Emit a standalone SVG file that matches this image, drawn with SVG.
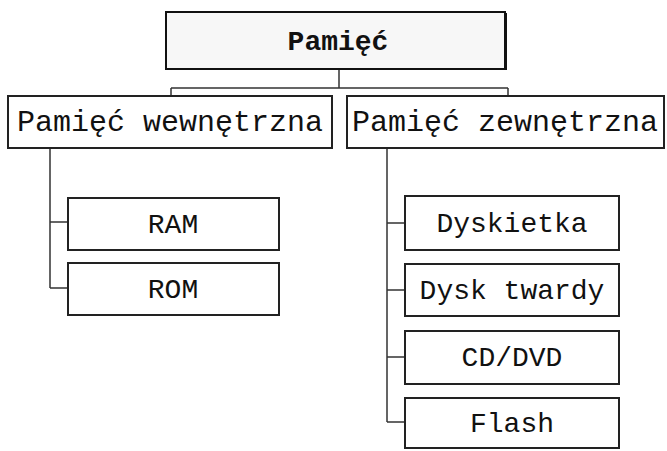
<svg xmlns="http://www.w3.org/2000/svg" width="667" height="451" viewBox="0 0 667 451">
<style>
.box{fill:#fff;stroke:#222;stroke-width:2}
.top{fill:#f7f7f7;stroke:#111;stroke-width:2}
.lbl{font-family:"Liberation Mono","Courier New",monospace;fill:#111;text-anchor:middle}
.l2{font-size:30px}
.leaf{font-size:28px}
.conn{fill:none;stroke:#333;stroke-width:1.5}
</style>
<rect width="667" height="451" fill="#fff"/>
<g id="connectors">
<path class="conn" d="M339 69V88M171 88H508M171 88V96M508 88V96"/>
<path class="conn" d="M50 148V288M50 222H68M50 288H68"/>
<path class="conn" d="M387 148V422M387 223H405M387 290H405M387 357H405M387 422H405"/>
</g>
<g id="n-pamiec">
<rect class="top" x="166" y="12" width="339" height="57"/>
<path d="M167 69H506V13" fill="none" stroke="#111" stroke-width="2"/>
<text class="lbl" x="338" y="50" font-size="28" font-weight="bold">Pamięć</text>
</g>
<g id="n-wew">
<rect class="box" x="8" y="96" width="324" height="52"/>
<text class="lbl l2" x="170" y="131">Pamięć wewnętrzna</text>
</g>
<g id="n-zew">
<rect class="box" x="347" y="96" width="317" height="52"/>
<text class="lbl l2" x="505" y="131">Pamięć zewnętrzna</text>
</g>
<g id="n-ram">
<rect class="box" x="68" y="198" width="211" height="52"/>
<text class="lbl leaf" x="173" y="233">RAM</text>
</g>
<g id="n-rom">
<rect class="box" x="68" y="263" width="211" height="52"/>
<text class="lbl leaf" x="173" y="298">ROM</text>
</g>
<g id="n-dyskietka">
<rect class="box" x="405" y="196" width="214" height="54"/>
<text class="lbl leaf" x="512" y="232">Dyskietka</text>
</g>
<g id="n-dysk">
<rect class="box" x="405" y="264" width="214" height="52"/>
<text class="lbl leaf" x="512" y="299">Dysk twardy</text>
</g>
<g id="n-cd">
<rect class="box" x="405" y="331" width="214" height="53"/>
<text class="lbl leaf" x="512" y="366">CD/DVD</text>
</g>
<g id="n-flash">
<rect class="box" x="405" y="398" width="214" height="50"/>
<text class="lbl leaf" x="512" y="432">Flash</text>
</g>
</svg>
